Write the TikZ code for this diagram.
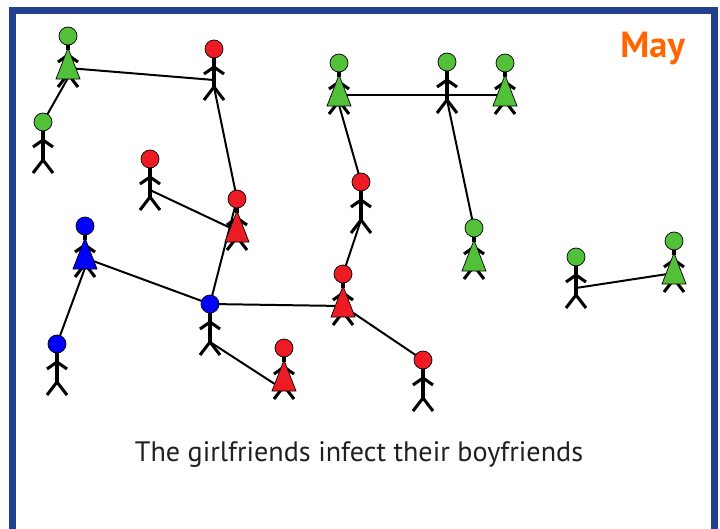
\documentclass[tikz,border=0pt]{standalone}
\usepackage{fontspec}
\setmainfont{PT Sans}
\usetikzlibrary{backgrounds}

\definecolor{sgreen}{RGB}{82,192,56}
\definecolor{sred}{RGB}{237,28,36}
\definecolor{sblue}{RGB}{0,0,255}
\definecolor{frameblue}{RGB}{36,64,142}
\definecolor{monthorange}{RGB}{255,102,0}
\definecolor{captiongray}{RGB}{35,31,32}

\tikzset{
  limb/.style={line width=2.6pt},
  link/.style={line width=1.7pt},
  skin/.style={fill=#1, draw=black, line width=0.6pt},
  % stick man, head centre at the origin
  pics/man/.style={code={
      \draw[limb] (0,0) -- (0,38);
      \draw[limb] (-10,25) -- (0,18) -- (10,25);
      \draw[limb] (-10,51) -- (0,38) -- (10,51);
      \path[skin=#1] (0,0) circle (9);
      \coordinate (-head) at (0,0);
      \coordinate (-waist) at (0,31);
      \coordinate (-hip) at (0,38);
  }},
  % stick woman with a dress
  pics/woman/.style={code={
      \draw[limb] (0,0) -- (0,14);
      \draw[limb] (-10,26) -- (0,19) -- (10,26);
      \draw[limb] (-10,51) -- (0,38) -- (10,51);
      \path[skin=#1] (0,12) -- (12,43) -- (-12,43) -- cycle;
      \path[skin=#1] (0,0) circle (9);
      \coordinate (-head) at (0,0);
      \coordinate (-waist) at (0,32);
      \coordinate (-hip) at (0,42);
  }}
}

\begin{document}
\begin{tikzpicture}[x=0.03cm, y=-0.03cm]
  \useasboundingbox (0,0) rectangle (720,529);
  \draw[frameblue, line width=5.95pt] (12.5,532) rectangle (714.5,10.5);

  % green
  \pic (g1) at (68,36)   {woman=sgreen};
  \pic (g2) at (43,122)  {man=sgreen};
  \pic (g3) at (339,63)  {woman=sgreen};
  \pic (g4) at (447,62)  {man=sgreen};
  \pic (g5) at (505,63)  {woman=sgreen};
  \pic (g6) at (474,228) {woman=sgreen};
  \pic (g7) at (576,257) {man=sgreen};
  \pic (g8) at (674,241) {woman=sgreen};
  % red
  \pic (r1) at (214,49)  {man=sred};
  \pic (r2) at (150,159) {man=sred};
  \pic (r3) at (237,199) {woman=sred};
  \pic (r4) at (361,182) {man=sred};
  \pic (r5) at (343,274) {woman=sred};
  \pic (r6) at (284,348) {woman=sred};
  \pic (r7) at (423,360) {man=sred};
  % blue
  \pic (b1) at (85,226)  {woman=sblue};
  \pic (b2) at (210,304) {man=sblue};
  \pic (b3) at (57,344)  {man=sblue};

  \begin{scope}[on background layer]
    \draw[link] (g1-hip) -- (g2-head);
    \draw[link] (g1-waist) -- (r1-waist);
    \draw[link] (r1-hip) -- (r3-head);
    \draw[link] (r2-waist) -- (r3-waist);
    \draw[link] (b1-hip) -- (b3-head);
    \draw[link] (b1-waist) -- (b2-head);
    \draw[link] (b2-head) -- (r3-head);
    \draw[link] (b2-head) -- (r5-waist);
    \draw[link] (b2-hip) -- (r6-hip);
    \draw[link] (r5-head) -- (r4-hip);
    \draw[link] (r4-head) -- (g3-hip);
    \draw[link] (g3-waist) -- (g5-waist);
    \draw[link] (g4-hip) -- (g6-head);
    \draw[link] (r5-waist) -- (r7-head);
    \draw[link] (g7-waist) -- (g8-waist);
  \end{scope}

  \node[anchor=base east, text=monthorange, font=\fontsize{31}{36}\selectfont\bfseries] (month) at (689,57) {May};
  \node[anchor=base, text=captiongray, font=\fontsize{24}{28}\selectfont] (caption) at (359,461) {The girlfriends infect their boyfriends};
\end{tikzpicture}
\end{document}
